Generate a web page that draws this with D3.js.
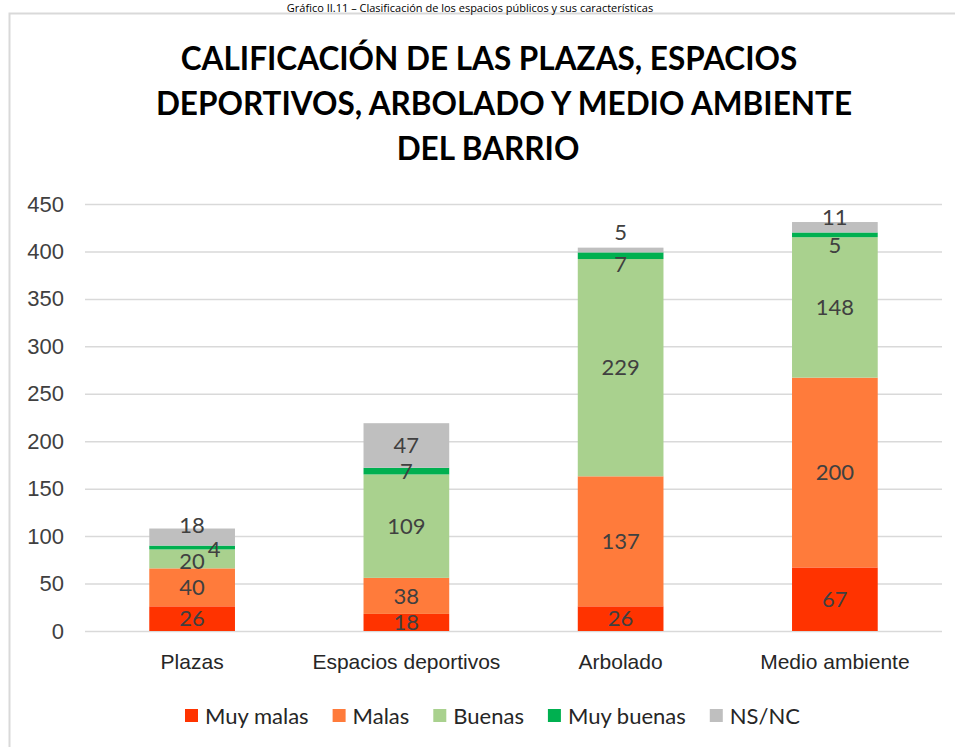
<!DOCTYPE html>
<html>
<head>
<meta charset="utf-8">
<script src="https://cdn.jsdelivr.net/npm/d3@7"></script>
<style>
  body { margin: 0; background: #fff; }
  svg { display: block; font-family: Lato, "Open Sans", sans-serif; }
</style>
</head>
<body>
<svg id="chart" width="955" height="747"></svg>
<script>
let categories = ['Plazas', 'Espacios deportivos', 'Arbolado', 'Medio ambiente'];
let seriesNames = ['Muy malas', 'Malas', 'Buenas', 'Muy buenas', 'NS/NC'];
let muyMalas = [26, 18, 26, 67];
let malas = [40, 38, 137, 200];
let buenas = [20, 109, 229, 148];
let muyBuenas = [4, 7, 7, 5];
let nsnc = [18, 47, 5, 11];
let yTicks = [0, 50, 100, 150, 200, 250, 300, 350, 400, 450];
let colors = ['#ff3300', '#ff7b3b', '#a9d18e', '#00b050', '#bfbfbf'];
let titleLines = ['CALIFICACIÓN DE LAS PLAZAS, ESPACIOS', 'DEPORTIVOS, ARBOLADO Y MEDIO AMBIENTE', 'DEL BARRIO'];
let caption = 'Gráfico II.11 – Clasificación de los espacios públicos y sus características';

// label nudges where Excel moved overlapping labels (key: category index-series index)
let nudges = {
    '0-2': [0, 2], '0-3': [22, 2], '0-4': [0, -12],
    '2-3': [0, 9], '2-4': [0, -18],
    '3-3': [0, 10], '3-4': [0, -10]
};

let width = 955, height = 747;
let margin = { left: 85, right: 13, top: 204, bottom: 116 };
let svg = d3.select('#chart');

let table = categories.map(function(c, i) {
    let row = { cat: c };
    row[seriesNames[0]] = muyMalas[i];
    row[seriesNames[1]] = malas[i];
    row[seriesNames[2]] = buenas[i];
    row[seriesNames[3]] = muyBuenas[i];
    row[seriesNames[4]] = nsnc[i];
    return row;
});
let stacked = d3.stack().keys(seriesNames)(table);

let x = d3.scaleBand()
    .domain(categories)
    .range([margin.left, width - margin.right])
    .paddingInner(0.6).paddingOuter(0.3);
let y = d3.scaleLinear()
    .domain([0, 450])
    .range([631, 204]);

// chart frame, then the caption above it
svg.append('rect')
    .attr('x', 9.5).attr('y', 13.5)
    .attr('width', 960).attr('height', 760)
    .attr('fill', '#fff')
    .attr('stroke', '#d9d9d9').attr('stroke-width', 2);

svg.append('text')
    .attr('x', 470).attr('y', 12)
    .attr('text-anchor', 'middle')
    .style('font-family', '"Open Sans", sans-serif')
    .style('font-size', '11px').style('fill', '#000')
    .text(caption);

// title
let titleCenters = [489, 504, 488];
svg.append('g').selectAll('text')
    .data(titleLines)
    .join('text')
    .attr('x', function(d, i) { return titleCenters[i]; })
    .attr('y', function(d, i) { return 70 + i * 45; })
    .attr('text-anchor', 'middle')
    .style('font-size', '31.5px').style('font-weight', 'bold').style('fill', '#000')
    .text(function(d) { return d; });

// grid + y axis
let yAxis = svg.append('g')
    .attr('transform', 'translate(' + margin.left + ',0)')
    .call(d3.axisLeft(y).tickValues(yTicks).tickSize(-(width - margin.right - margin.left)).tickPadding(21));
yAxis.select('.domain').remove();
yAxis.selectAll('.tick line').attr('stroke', '#d9d9d9').attr('stroke-width', 1.5);
yAxis.selectAll('.tick text')
    .style('font-size', '22px').style('fill', '#404040');

// bars
let layers = svg.append('g').selectAll('g')
    .data(stacked)
    .join('g')
    .attr('fill', function(d, i) { return colors[i]; });
layers.selectAll('rect')
    .data(function(d) { return d; })
    .join('rect')
    .attr('x', function(d) { return x(d.data.cat); })
    .attr('width', x.bandwidth())
    .attr('y', function(d) { return y(d[1]); })
    .attr('height', function(d) { return y(d[0]) - y(d[1]); });

// data labels
stacked.forEach(function(layer, si) {
    svg.append('g').selectAll('text')
        .data(layer)
        .join('text')
        .attr('x', function(d, ci) {
            let n = nudges[ci + '-' + si];
            return x(d.data.cat) + x.bandwidth() / 2 + (n ? n[0] : 0);
        })
        .attr('y', function(d, ci) {
            let n = nudges[ci + '-' + si];
            return (y(d[0]) + y(d[1])) / 2 + (n ? n[1] : 0);
        })
        .attr('dy', '0.35em')
        .attr('text-anchor', 'middle')
        .style('font-size', '22px').style('fill', '#404040')
        .text(function(d) { return d[1] - d[0]; });
});

// x axis labels
let xAxis = svg.append('g')
    .attr('transform', 'translate(0,631)')
    .call(d3.axisBottom(x).tickSize(0).tickPadding(23));
xAxis.select('.domain').remove();
xAxis.selectAll('.tick text')
    .style('font-size', '21px').style('fill', '#262626');

// legend
let legend = svg.append('g').attr('transform', 'translate(0,716)');
let lx = 185;
seriesNames.forEach(function(name, i) {
    let g = legend.append('g').attr('transform', 'translate(' + lx + ',0)');
    g.append('rect').attr('x', 0).attr('y', -7).attr('width', 13).attr('height', 13).attr('fill', colors[i]);
    let t = g.append('text').attr('x', 20).attr('dy', '0.35em')
        .style('font-size', '22px').style('fill', '#262626').text(name);
    lx += 20 + t.node().getComputedTextLength() + 24;
});
</script>
</body>
</html>
